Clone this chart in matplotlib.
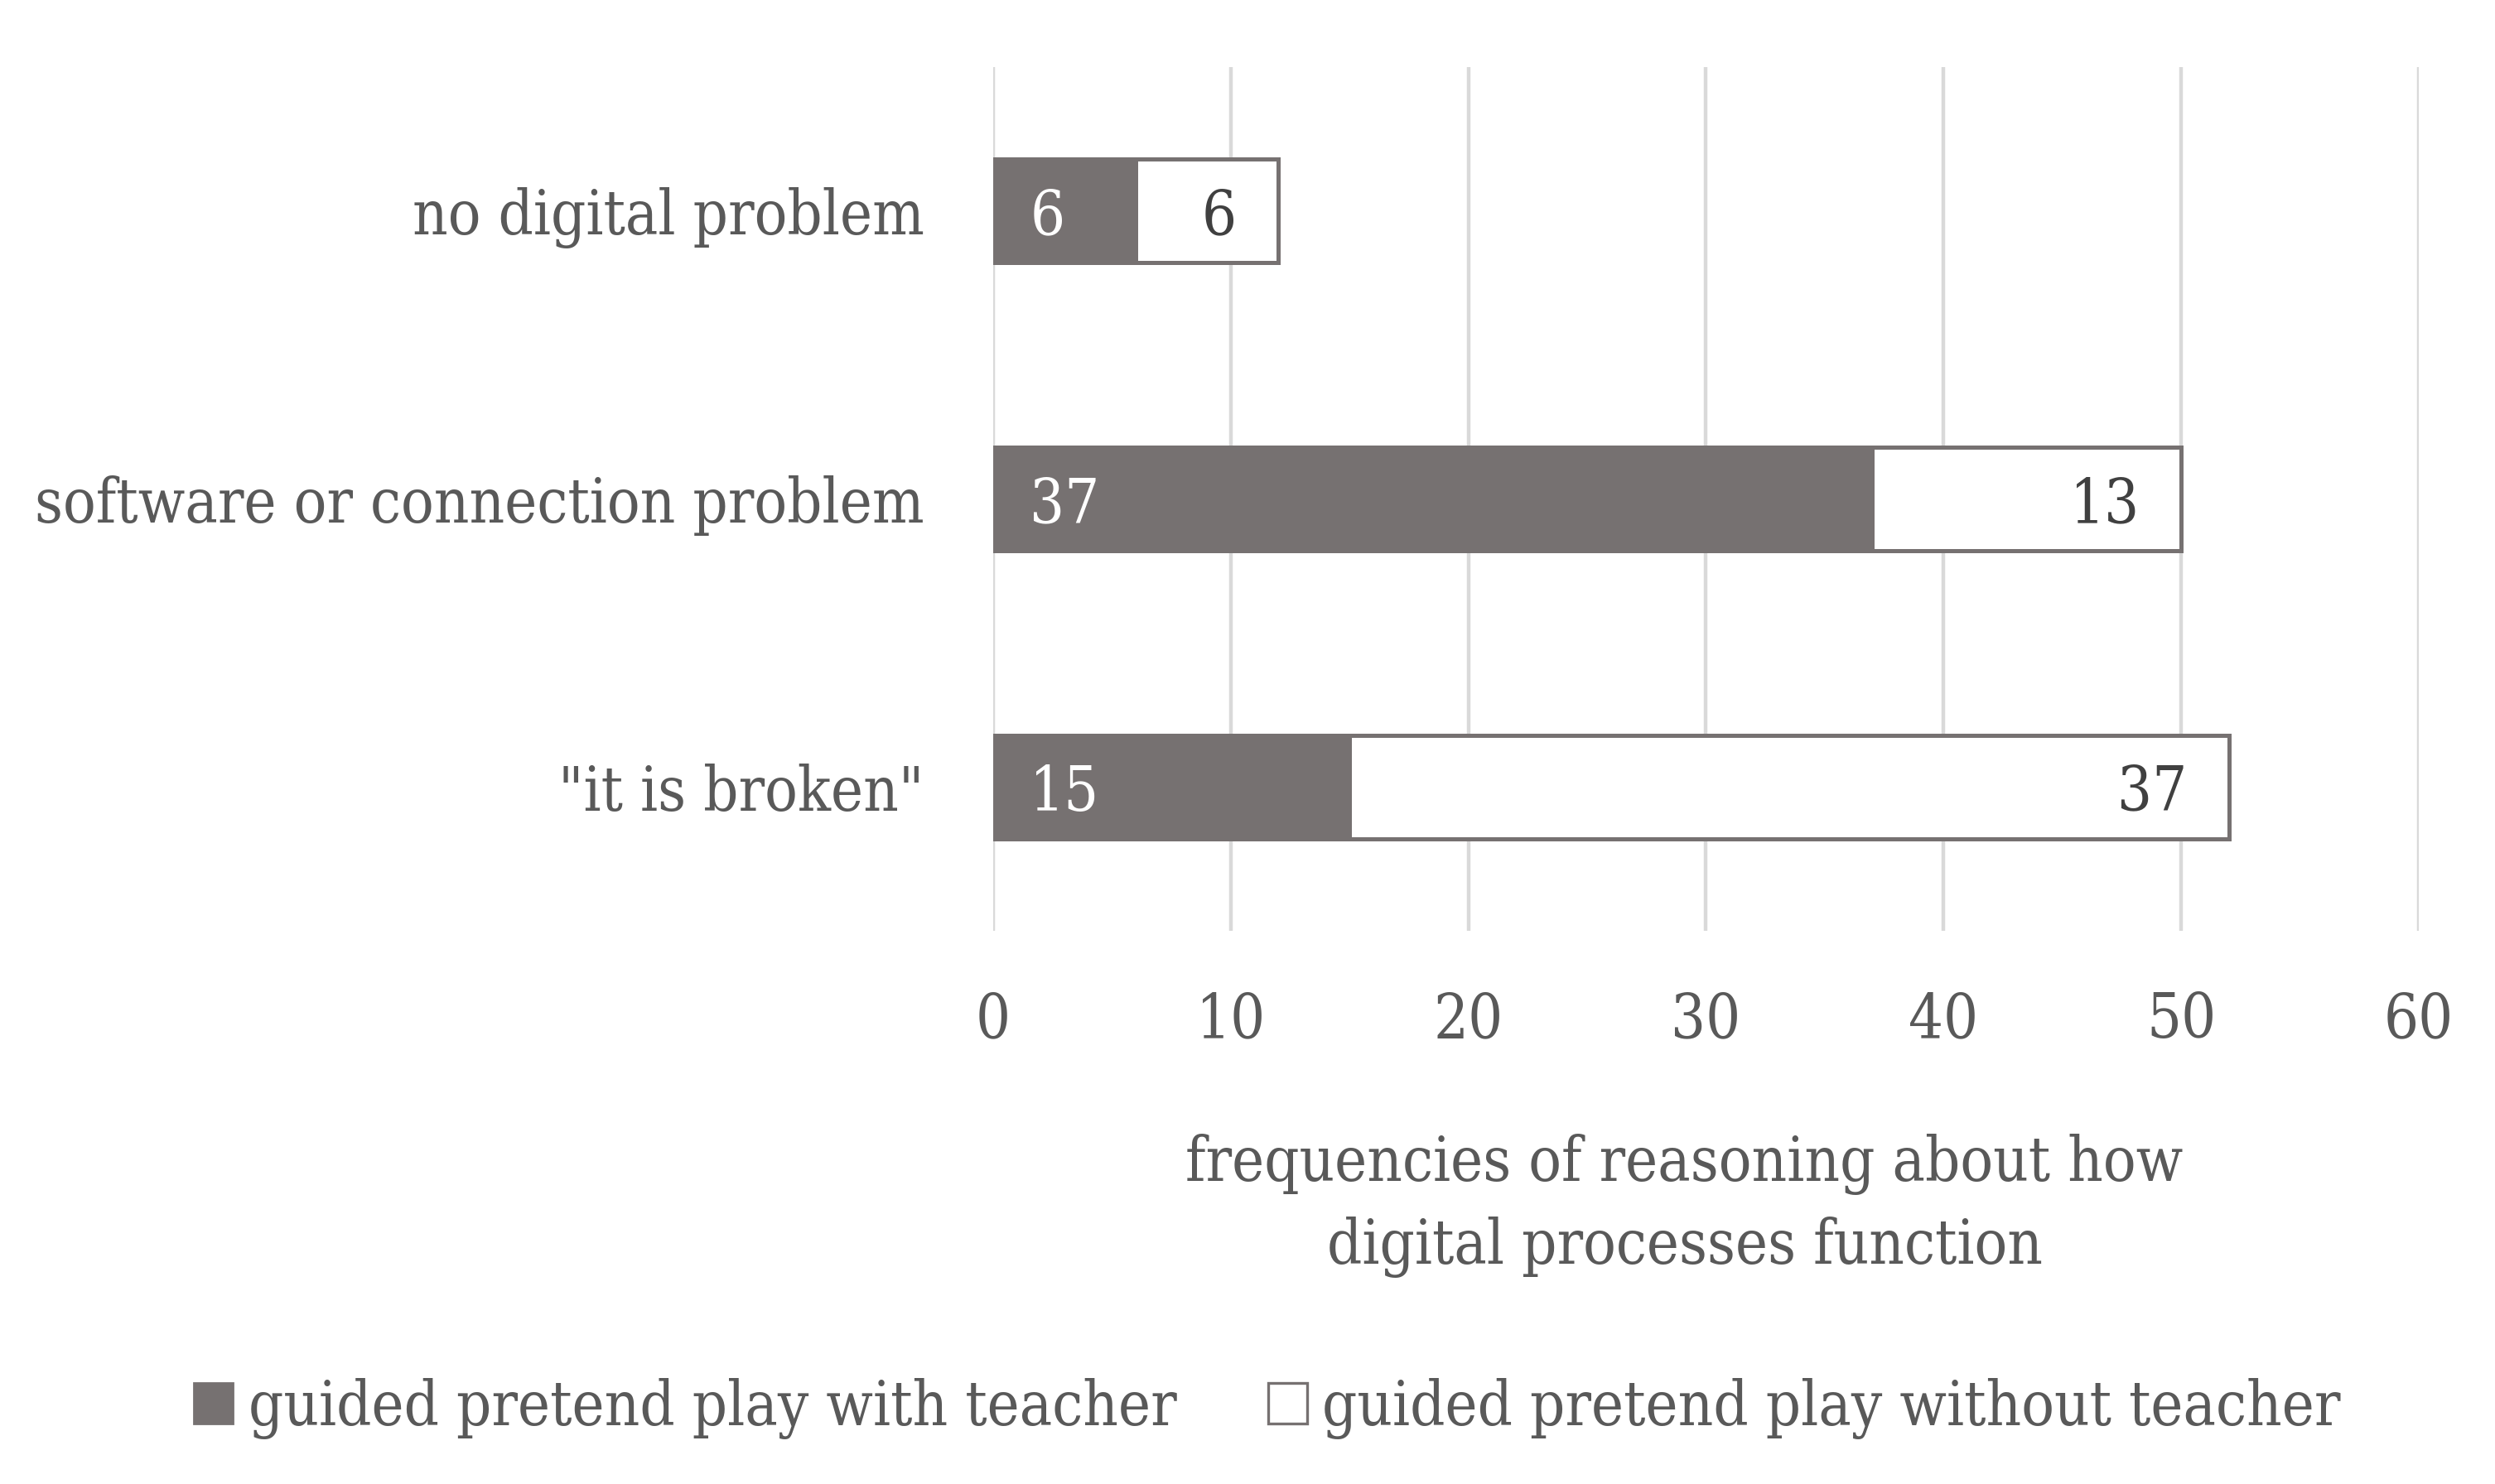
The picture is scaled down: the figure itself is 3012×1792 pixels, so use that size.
import numpy as np
import matplotlib.pyplot as plt
from matplotlib.patches import Patch

# ── Data ─────────────────────────────────────────────────────────────────────
categories   = ['no digital problem', 'software or connection problem', '"it is broken"']
with_teacher = [6, 37, 15]
without_teacher = [6, 13, 37]
series_names = ['guided pretend play with teacher', 'guided pretend play without teacher']
x_ticks = [0, 10, 20, 30, 40, 50, 60]

DARK = '#767171'
plt.rcParams['font.family'] = ['DejaVu Serif']
plt.rcParams['font.stretch'] = 'condensed'
FS = 26.5

fig = plt.figure(figsize=(15.06, 8.96), dpi=200)
fig.patch.set_facecolor('white')
ax = fig.add_axes([0.398, 0.3728, 0.5715, 0.582])

y = np.arange(len(categories))
h = 0.36
ax.barh(y, with_teacher, height=h, color=DARK, edgecolor=DARK, linewidth=1.8, zorder=3)
ax.barh(y, without_teacher, left=with_teacher, height=h, color='white',
        edgecolor=DARK, linewidth=1.8, zorder=3)

for yi, a, b in zip(y, with_teacher, without_teacher):
    ax.annotate(str(a), (0, yi), xytext=(16, 0), textcoords='offset points',
                ha='left', va='center_baseline', color='white', fontsize=FS, zorder=4)
    ax.annotate(str(b), (a + b, yi), xytext=(-18, 0), textcoords='offset points',
                ha='right', va='center_baseline', color='#404040', fontsize=FS, zorder=4)

ax.set_xlim(0, 60)
ax.set_ylim(-0.5, 2.5)
ax.invert_yaxis()
ax.set_xticks(x_ticks)
ax.set_yticks(y)
ax.set_yticklabels(categories)
ax.tick_params(axis='both', length=0, labelsize=FS, labelcolor='#595959')
ax.tick_params(axis='x', pad=26)
ax.tick_params(axis='y', pad=30)
ax.grid(axis='x', color='#d9d9d9', linewidth=1.6, zorder=0)
ax.set_axisbelow(True)
for sp in ax.spines.values():
    sp.set_visible(False)

ax.set_xlabel('frequencies of reasoning about how\ndigital processes function',
              fontsize=FS, color='#595959', linespacing=1.45)
ax.xaxis.set_label_coords(0.485, -0.235)

handles = [Patch(facecolor=DARK, edgecolor=DARK),
           Patch(facecolor='white', edgecolor=DARK, linewidth=1.2)]
fig.legend(handles, series_names, loc='center', bbox_to_anchor=(0.508, 0.051),
           ncol=2, frameon=False, fontsize=FS, labelcolor='#595959',
           handlelength=0.64, handleheight=0.64, handletextpad=0.25,
           columnspacing=1.5)

plt.savefig('out.png', dpi=200, facecolor='white')
plt.close()
